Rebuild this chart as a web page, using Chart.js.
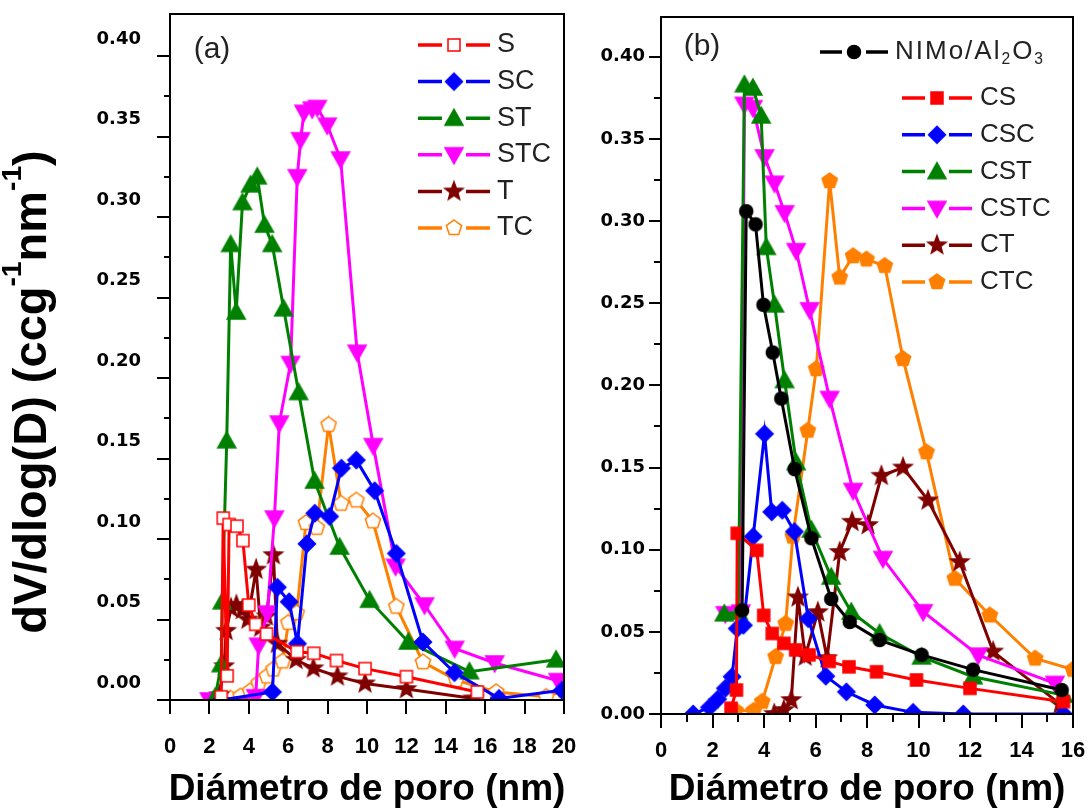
<!DOCTYPE html>
<html>
<head>
<meta charset="utf-8">
<script src="https://cdn.jsdelivr.net/npm/chart.js@4.4.1/dist/chart.umd.min.js"></script>
<style>
html, body { margin: 0; padding: 0; background: #fff; }
#wrap { position: relative; width: 1088px; height: 808px; overflow: hidden; background: #fff; }
canvas { position: absolute; top: 0; }
#cA { left: 0; }
#cB { left: 560px; }
</style>
</head>
<body>
<div id="wrap">
  <canvas id="cA" width="600" height="808"></canvas>
  <canvas id="cB" width="528" height="808"></canvas>
</div>
<script>
// ---- panel (a) data ----
const S_x   = [2.6, 2.7, 2.9, 3.0, 3.4, 3.7, 4.0, 4.35, 4.9, 6.45, 7.3, 8.45, 9.9, 12.0, 15.6];
const S_y   = [0.002, 0.113, 0.015, 0.109, 0.108, 0.099, 0.059, 0.047, 0.041, 0.030, 0.029, 0.0245, 0.0195, 0.0145, 0.005];
const SC_x  = [2.6, 5.2, 5.45, 6.05, 6.47, 6.95, 7.35, 8.1, 8.7, 9.46, 10.39, 11.49, 12.84, 14.44, 16.7, 19.9];
const SC_y  = [0.0, 0.005, 0.070, 0.061, 0.035, 0.097, 0.116, 0.114, 0.144, 0.149, 0.130, 0.091, 0.036, 0.017, 0.001, 0.006];
const ST_x  = [2.3, 2.6, 2.65, 2.88, 3.08, 3.36, 3.68, 4.09, 4.43, 4.8, 5.19, 5.77, 6.53, 7.34, 8.61, 10.13, 12.1, 15.2, 19.6];
const ST_y  = [0.002, 0.022, 0.061, 0.161, 0.283, 0.241, 0.309, 0.320, 0.325, 0.295, 0.283, 0.243, 0.191, 0.136, 0.095, 0.062, 0.036, 0.0176, 0.025];
const STC_x = [2.0, 4.35, 4.5, 4.94, 5.3, 5.55, 6.12, 6.46, 6.63, 6.8, 7.22, 7.48, 7.98, 8.66, 9.5, 10.32, 11.45, 12.92, 14.45, 16.48, 19.7];
const STC_y = [0.0, 0.002, 0.034, 0.054, 0.113, 0.172, 0.209, 0.325, 0.348, 0.365, 0.367, 0.368, 0.357, 0.336, 0.216, 0.158, 0.083, 0.059, 0.032, 0.023, 0.012];
const T_x   = [2.5, 2.75, 2.85, 3.1, 3.37, 3.67, 3.95, 4.37, 4.6, 4.9, 5.25, 5.45, 6.4, 7.28, 8.5, 9.9, 12.0, 15.4];
const T_y   = [0.003, 0.021, 0.043, 0.057, 0.059, 0.056, 0.050, 0.081, 0.045, 0.052, 0.090, 0.035, 0.025, 0.0197, 0.0147, 0.0103, 0.0068, 0.001];
const TC_x  = [2.74, 3.08, 3.58, 4.07, 4.5, 4.92, 5.25, 5.72, 6.01, 6.43, 6.9, 7.45, 8.05, 8.69, 9.46, 10.3, 11.49, 12.84, 14.53, 16.56, 19.1, 20.0];
const TC_y  = [0.0, 0.001, 0.0023, 0.0055, 0.0104, 0.0147, 0.019, 0.024, 0.048, 0.054, 0.110, 0.107, 0.171, 0.122, 0.124, 0.111, 0.058, 0.0235, 0.0124, 0.005, 0.002, 0.006];

// ---- panel (b) data ----
const NIMO_x = [3.15, 3.31, 3.67, 3.98, 4.34, 4.67, 5.19, 5.84, 6.61, 7.33, 8.49, 10.12, 12.12, 15.56];
const NIMO_y = [0.063, 0.306, 0.298, 0.249, 0.220, 0.192, 0.149, 0.107, 0.070, 0.056, 0.045, 0.036, 0.027, 0.0146];
const CS_x   = [2.72, 2.93, 2.96, 3.72, 3.99, 4.32, 4.77, 5.23, 5.75, 6.53, 7.3, 8.37, 9.92, 12.0, 15.63];
const CS_y   = [0.0035, 0.0146, 0.110, 0.0996, 0.060, 0.049, 0.043, 0.039, 0.036, 0.032, 0.0287, 0.0257, 0.0207, 0.0156, 0.0075];
const CSC_x  = [1.25, 1.88, 2.2, 2.5, 2.76, 2.96, 3.2, 3.58, 4.02, 4.3, 4.71, 5.18, 5.72, 6.4, 7.2, 8.3, 9.79, 11.74, 15.63];
const CSC_y  = [0.0, 0.004, 0.009, 0.0156, 0.0227, 0.052, 0.054, 0.108, 0.1705, 0.123, 0.124, 0.111, 0.058, 0.023, 0.0135, 0.0055, 0.001, 0.0, 0.0];
const CST_x  = [2.46, 3.0, 3.24, 3.57, 3.89, 4.09, 4.41, 4.8, 5.25, 5.84, 6.61, 7.39, 8.49, 10.12, 12.12, 15.63];
const CST_y  = [0.061, 0.062, 0.383, 0.381, 0.364, 0.284, 0.249, 0.203, 0.153, 0.112, 0.0834, 0.0621, 0.049, 0.0348, 0.0227, 0.0115];
const CSTC_x = [2.5, 3.1, 3.24, 3.57, 4.02, 4.41, 4.8, 5.25, 5.77, 6.55, 7.46, 8.62, 10.18, 12.32, 15.3];
const CSTC_y = [0.061, 0.062, 0.371, 0.369, 0.339, 0.323, 0.305, 0.282, 0.246, 0.192, 0.136, 0.0946, 0.0622, 0.0358, 0.0186];
const CT_x   = [4.4, 4.77, 5.06, 5.32, 5.6, 6.09, 6.45, 6.94, 7.42, 8.04, 8.56, 9.4, 10.37, 11.6, 12.9, 15.5];
const CT_y   = [0.0, 0.0024, 0.0085, 0.071, 0.035, 0.062, 0.034, 0.0986, 0.117, 0.115, 0.145, 0.150, 0.130, 0.0925, 0.038, 0.006];
const CTC_x  = [2.9, 3.6, 3.93, 4.45, 4.84, 5.12, 5.7, 6.03, 6.55, 6.94, 7.46, 7.98, 8.69, 9.4, 10.31, 11.41, 12.77, 14.53, 16.0];
const CTC_y  = [0.002, 0.002, 0.0075, 0.0348, 0.055, 0.108, 0.1725, 0.21, 0.3244, 0.2657, 0.2787, 0.2767, 0.2728, 0.2161, 0.1594, 0.0824, 0.0601, 0.0338, 0.027];

const yTitle = [{t: 'dV/dlog(D) (ccg'}, {t: '-1', sup: true}, {t: 'nm'}, {t: '-1', sup: true}, {t: ')'}];
const xTitle = 'Diámetro de poro (nm)';

const RED = '#ff0000', BLUE = '#0000ff', GREEN = '#008000', MAG = '#ff00ff', DRED = '#800000', ORG = '#ff8000';
const TXT = '#222';
const SANS = 'Liberation Sans, Arial, sans-serif';

// marker images
function marker(shape, fill, stroke) {
  const c = document.createElement('canvas');
  c.width = 24; c.height = 24;
  const g = c.getContext('2d');
  g.translate(12, 12);
  g.beginPath();
  if (shape === 'square') {
    g.rect(-6, -6, 12, 12);
  } else if (shape === 'diamond') {
    g.moveTo(0, -8.5); g.lineTo(8.5, 0); g.lineTo(0, 8.5); g.lineTo(-8.5, 0); g.closePath();
  } else if (shape === 'up') {
    g.moveTo(0, -9); g.lineTo(9, 7); g.lineTo(-9, 7); g.closePath();
  } else if (shape === 'down') {
    g.moveTo(0, 9); g.lineTo(9, -7); g.lineTo(-9, -7); g.closePath();
  } else if (shape === 'circle') {
    g.arc(0, 0, 6.5, 0, Math.PI * 2);
  } else if (shape === 'star') {
    for (let i = 0; i < 10; i++) {
      const r = i % 2 ? 4 : 9.5;
      const a = -Math.PI / 2 + i * Math.PI / 5;
      if (i === 0) g.moveTo(r * Math.cos(a), r * Math.sin(a)); else g.lineTo(r * Math.cos(a), r * Math.sin(a));
    }
    g.closePath();
  } else if (shape === 'pent') {
    for (let i = 0; i < 5; i++) {
      const a = -Math.PI / 2 + i * 2 * Math.PI / 5;
      if (i === 0) g.moveTo(8 * Math.cos(a), 8 * Math.sin(a)); else g.lineTo(8 * Math.cos(a), 8 * Math.sin(a));
    }
    g.closePath();
  }
  g.fillStyle = fill; g.fill();
  g.lineWidth = 1.5; g.strokeStyle = stroke; g.stroke();
  return c;
}

function pts(xs, ys) { return xs.map((x, i) => ({x: x, y: ys[i]})); }

function series(label, xs, ys, color, mk, rich) {
  return {
    label: label, rich: rich || [{t: label}], data: pts(xs, ys), showLine: true,
    borderColor: color, backgroundColor: color, borderWidth: 3, tension: 0,
    pointStyle: mk, pointRadius: 8, pointHoverRadius: 8
  };
}

function fontStr(size, weight, family) { return weight + ' ' + size + 'px ' + family; }

function drawRich(ctx, segs, x, y, size, weight, family, align) {
  let w = 0;
  segs.forEach(s => {
    ctx.font = fontStr((s.sup || s.sub) ? size * 0.6 : size, weight, family);
    w += ctx.measureText(s.t).width + (s.ls || 0);
  });
  let cx = align === 'center' ? x - w / 2 : x;
  ctx.textAlign = 'left';
  ctx.textBaseline = 'middle';
  segs.forEach(s => {
    const fs = (s.sup || s.sub) ? size * 0.6 : size;
    ctx.font = fontStr(fs, weight, family);
    const dy = s.sup ? -size * 0.42 : (s.sub ? size * 0.3 : 0);
    ctx.fillText(s.t, cx, y + dy);
    cx += ctx.measureText(s.t).width + (s.ls || 0);
  });
}

// frame, ticks, legend and texts
const deco = {
  id: 'deco',
  afterDraw(chart, args, o) {
    const ctx = chart.ctx, ca = chart.chartArea, xs = chart.scales.x, ys = chart.scales.y;
    ctx.save();
    ctx.strokeStyle = '#000';
    ctx.lineWidth = 2;
    ctx.strokeRect(ca.left, ca.top, ca.right - ca.left, ca.bottom - ca.top);
    ctx.beginPath();
    for (let i = 0; i * o.yMinor <= 0.4 + 1e-9; i++) {
      const v = i * o.yMinor;
      const major = Math.abs(v / o.yMajor - Math.round(v / o.yMajor)) < 1e-6;
      const py = Math.round(ys.getPixelForValue(v));
      ctx.moveTo(ca.left, py); ctx.lineTo(ca.left - (major ? o.yMajLen : o.yMinLen), py);
    }
    for (let i = 0; i * o.xMinor <= xs.max + 1e-9; i++) {
      const v = i * o.xMinor;
      const major = Math.abs(v / o.xMajor - Math.round(v / o.xMajor)) < 1e-6;
      const px = Math.round(xs.getPixelForValue(v));
      ctx.moveTo(px, ca.bottom); ctx.lineTo(px, ca.bottom + (major ? o.xMajLen : o.xMinLen));
    }
    ctx.stroke();

    // legend
    o.legend.forEach(r => {
      const d = chart.data.datasets[r.ds];
      const x0 = r.x0 - o.ox, x1 = r.x1 - o.ox, mx = (x0 + x1) / 2;
      ctx.strokeStyle = d.borderColor;
      ctx.lineWidth = 3.5;
      ctx.beginPath();
      ctx.moveTo(x0, r.y); ctx.lineTo(mx - 12, r.y);
      ctx.moveTo(mx + 12, r.y); ctx.lineTo(x1, r.y);
      ctx.stroke();
      Chart.helpers.drawPoint(ctx, {pointStyle: d.pointStyle, radius: 8, rotation: 0, borderWidth: 0}, mx, r.y);
      ctx.fillStyle = TXT;
      drawRich(ctx, d.rich, r.tx - o.ox, r.y, o.legendSize, 'normal', SANS, 'left');
    });

    // texts
    ctx.fillStyle = TXT;
    ctx.font = fontStr(30, 'normal', SANS);
    ctx.textAlign = 'center';
    ctx.textBaseline = 'middle';
    ctx.fillText(o.tag, o.tagX - o.ox, o.tagY);

    ctx.fillStyle = '#000';
    ctx.font = fontStr(37, 'bold', SANS);
    ctx.fillText(xTitle, (ca.left + ca.right) / 2, 790);

    if (o.yTitle) {
      ctx.save();
      ctx.translate(33, 392);
      ctx.rotate(-Math.PI / 2);
      drawRich(ctx, yTitle, 0, 0, 47, 'bold', SANS, 'center');
      ctx.restore();
    }
    ctx.restore();
  }
};

function makeChart(id, datasets, xMax, yMax, yAxisW, xAxisH, pad, tickPadY, labelOffY, tickPadX, decoOpts) {
  return new Chart(document.getElementById(id), {
    type: 'scatter',
    data: {datasets: datasets},
    plugins: [deco],
    options: {
      responsive: false,
      animation: false,
      devicePixelRatio: 1,
      layout: {padding: pad},
      plugins: {legend: {display: false}, tooltip: {enabled: false}, deco: decoOpts},
      scales: {
        x: {
          type: 'linear', min: 0, max: xMax,
          afterFit(s) { s.height = xAxisH; s.paddingLeft = 0; s.paddingRight = 0; },
          grid: {display: false, drawTicks: false},
          border: {display: false},
          ticks: {
            stepSize: 2, includeBounds: false, autoSkip: false, maxRotation: 0, padding: tickPadX,
            color: '#000', font: {family: SANS, weight: 'bold', size: 22}
          }
        },
        y: {
          type: 'linear', min: 0, max: yMax,
          afterFit(s) { s.width = yAxisW; s.paddingTop = 0; s.paddingBottom = 0; },
          grid: {display: false, drawTicks: false},
          border: {display: false},
          ticks: {
            stepSize: 0.05, includeBounds: false, padding: tickPadY, labelOffset: labelOffY,
            color: '#000', font: {family: "'DejaVu Sans', sans-serif", weight: 'bold', size: 18},
            callback: v => v.toFixed(2)
          }
        }
      }
    }
  });
}

const mkS = marker('square', '#fff', RED);
const mkSC = marker('diamond', BLUE, BLUE);
const mkST = marker('up', GREEN, GREEN);
const mkSTC = marker('down', MAG, MAG);
const mkT = marker('star', DRED, DRED);
const mkTC = marker('pent', '#fff', ORG);
const mkN = marker('circle', '#000', '#000');
const mkCS = marker('square', RED, RED);
const mkCTC = marker('pent', ORG, ORG);

// spaced-out legend text for the support sample
const nimoText = 'NIMo/Al'.split('').map(ch => ({t: ch, ls: 2}))
  .concat([{t: '2', sub: true, ls: 2}, {t: 'O', ls: 2}, {t: '3', sub: true}]);

const dsA = [
  series('S', S_x, S_y, RED, mkS),
  series('SC', SC_x, SC_y, BLUE, mkSC),
  series('ST', ST_x, ST_y, GREEN, mkST),
  series('STC', STC_x, STC_y, MAG, mkSTC),
  series('T', T_x, T_y, DRED, mkT),
  series('TC', TC_x, TC_y, ORG, mkTC)
];

const dsB = [
  series('NIMo/Al2O3', NIMO_x, NIMO_y, '#000', mkN, nimoText),
  series('CS', CS_x, CS_y, RED, mkCS),
  series('CSC', CSC_x, CSC_y, BLUE, mkSC),
  series('CST', CST_x, CST_y, GREEN, mkST),
  series('CSTC', CSTC_x, CSTC_y, MAG, mkSTC),
  series('CT', CT_x, CT_y, DRED, mkT),
  series('CTC', CTC_x, CTC_y, ORG, mkCTC)
];

const legA = [0, 1, 2, 3, 4, 5].map(i => ({ds: i, x0: 418, x1: 490, tx: 497, y: 45 + i * 36.6}));
const legB = [{ds: 0, x0: 820, x1: 888, tx: 895, y: 52}].concat(
  [1, 2, 3, 4, 5, 6].map(i => ({ds: i, x0: 902, x1: 972, tx: 980, y: 98 + (i - 1) * 36.8})));

makeChart('cA', dsA, 20, 0.4261, 170, 108, {left: 0, right: 36, top: 14, bottom: 0}, 29, -17, 34, {
  ox: 0, yMinor: 0.025, yMajor: 0.05, yMajLen: 13, yMinLen: 6, xMinor: 2, xMajor: 2, xMajLen: 14, xMinLen: 14,
  legend: legA, legendSize: 27, tag: '(a)', tagX: 212, tagY: 50, yTitle: true
});

makeChart('cB', dsB, 16, 0.4242, 101, 94, {left: 0, right: 15, top: 17, bottom: 0}, 16, 0, 24, {
  ox: 560, yMinor: 0.025, yMajor: 0.05, yMajLen: 12, yMinLen: 7, xMinor: 1, xMajor: 2, xMajLen: 14, xMinLen: 8,
  legend: legB, legendSize: 26, tag: '(b)', tagX: 702, tagY: 47, yTitle: false
});
</script>
</body>
</html>
